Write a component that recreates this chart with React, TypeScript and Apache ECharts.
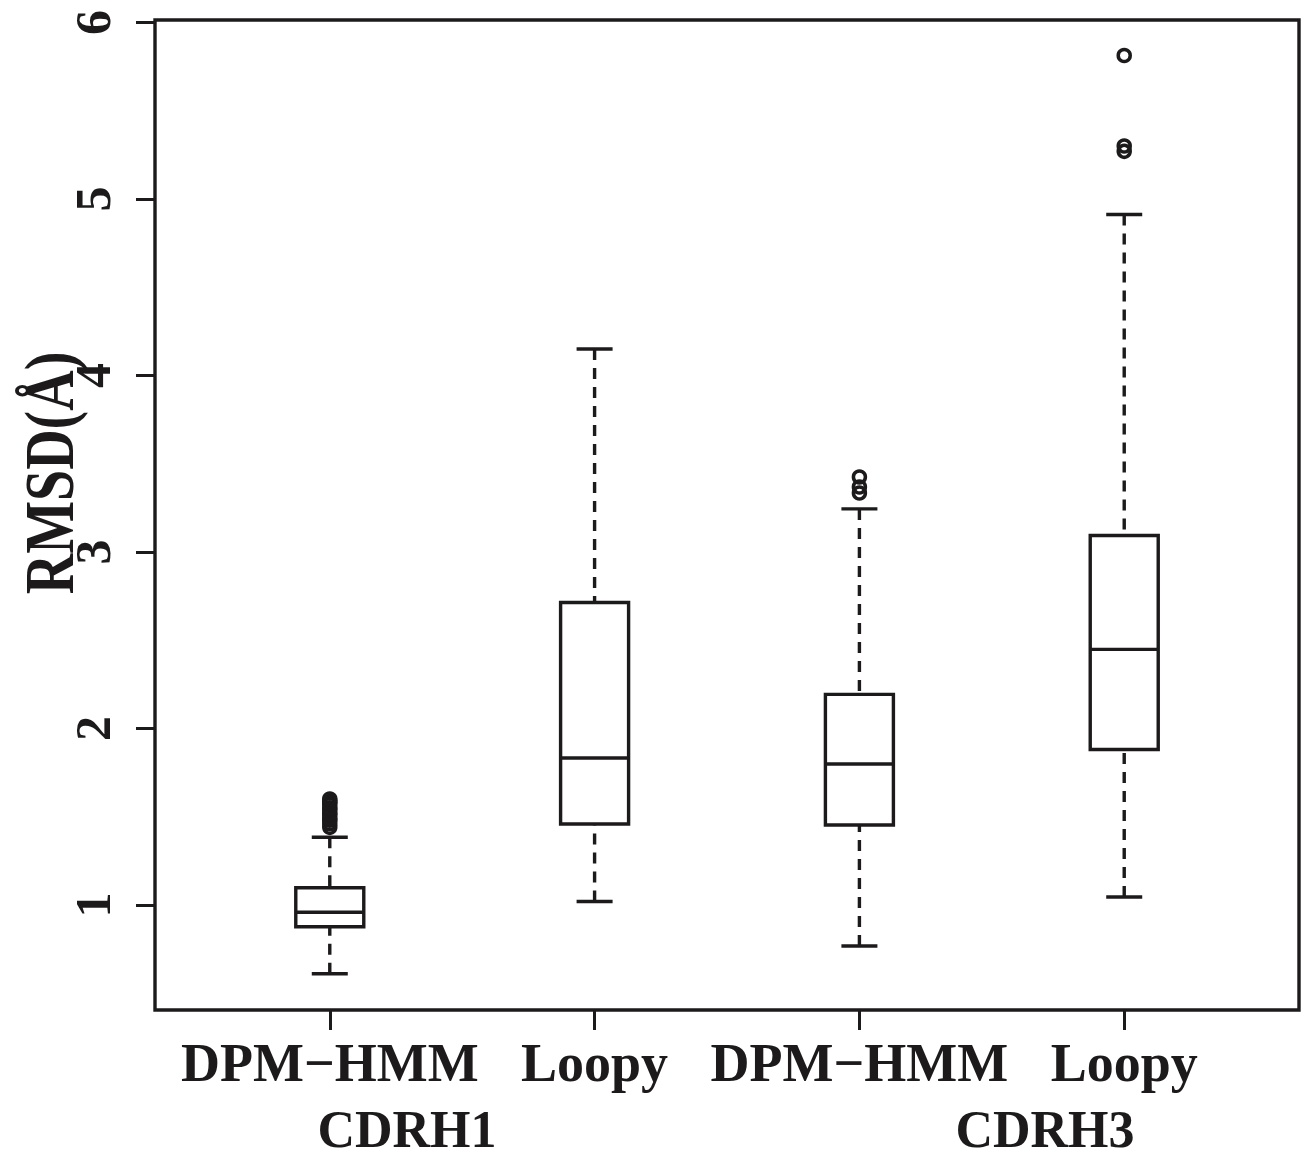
import React, { useEffect, useRef } from "react";
import * as echarts from "echarts";

// Loop-modelling accuracy: RMSD per method for two CDR loops
const categories = ["DPM\u2212HMM", "Loopy", "DPM\u2212HMM", "Loopy"];
const groupLabels = ["CDRH1", "CDRH3"];
const lowerWhisker = [0.61, 1.02, 0.768, 1.045];
const quartile1 = [0.877, 1.459, 1.453, 1.881];
const median = [0.959, 1.833, 1.799, 2.448];
const quartile3 = [1.098, 2.714, 2.193, 3.093];
const upperWhisker = [1.384, 4.15, 3.244, 4.912];
const outliers = [
  [1.44, 1.46, 1.48, 1.49, 1.51, 1.52, 1.54, 1.55, 1.57, 1.58, 1.59, 1.6],
  [],
  [3.334, 3.368, 3.425],
  [5.27, 5.3, 5.813],
];
const yTicks = [1, 2, 3, 4, 5, 6];
const xTicks = [1, 2, 3, 4];

const INK = "#1c1a1b";
const FONT = "Liberation Serif, Times New Roman, Times, serif";

export default function App() {
  const ref = useRef<HTMLDivElement>(null);

  useEffect(() => {
    if (!ref.current) return;
    const chart = echarts.init(ref.current, undefined, { renderer: "svg" });

    const boxData = categories.map((_, i) => [
      i + 1,
      lowerWhisker[i],
      quartile1[i],
      median[i],
      quartile3[i],
      upperWhisker[i],
    ]);
    const outlierData: number[][] = [];
    outliers.forEach((vals, i) => vals.forEach((v) => outlierData.push([i + 1, v])));

    const boxHalf = 34;
    const capHalf = 18;
    const lw = 3.4;

    const groupText = (label: string, x: number) => ({
      type: "text",
      x,
      y: 1129,
      style: {
        text: label,
        fill: INK,
        fontFamily: FONT,
        fontWeight: "bold",
        fontSize: 52,
        align: "center",
        verticalAlign: "middle",
      },
    });

    chart.setOption({
      animation: false,
      backgroundColor: "#ffffff",
      grid: {
        left: 155,
        top: 20,
        width: 1144,
        height: 990,
        show: true,
        borderColor: INK,
        borderWidth: 3.4,
        backgroundColor: "transparent",
      },
      xAxis: {
        type: "value",
        min: 0.34,
        max: 4.66,
        axisLine: { show: false },
        splitLine: { show: false },
        axisTick: {
          show: true,
          customValues: xTicks,
          length: 20,
          lineStyle: { color: INK, width: 3 },
        },
        axisLabel: {
          show: true,
          customValues: xTicks,
          margin: 26,
          formatter: (v: number) => categories[Math.round(v) - 1] ?? "",
          color: INK,
          fontFamily: FONT,
          fontWeight: "bold",
          fontSize: 54,
        },
      },
      yAxis: {
        type: "value",
        min: 0.405,
        max: 6.014,
        axisLine: { show: false },
        splitLine: { show: false },
        axisTick: {
          show: true,
          customValues: yTicks,
          length: 19,
          lineStyle: { color: INK, width: 3 },
        },
        axisLabel: {
          show: true,
          customValues: yTicks,
          rotate: 90,
          margin: 37,
          color: INK,
          fontFamily: FONT,
          fontWeight: "bold",
          fontSize: 50,
        },
      },
      series: [
        {
          type: "custom",
          data: boxData,
          encode: { x: 0, y: [1, 2, 3, 4, 5] },
          renderItem: (params: any, api: any) => {
            const x = api.value(0);
            const lo = api.coord([x, api.value(1)]);
            const q1 = api.coord([x, api.value(2)]);
            const md = api.coord([x, api.value(3)]);
            const q3 = api.coord([x, api.value(4)]);
            const hi = api.coord([x, api.value(5)]);
            const cx = lo[0];
            const solid = { stroke: INK, lineWidth: lw, fill: "none" };
            const dashed = { stroke: INK, lineWidth: lw, lineDash: [11, 8] };
            return {
              type: "group",
              children: [
                { type: "line", shape: { x1: cx, y1: lo[1], x2: cx, y2: q1[1] }, style: dashed },
                { type: "line", shape: { x1: cx, y1: hi[1], x2: cx, y2: q3[1] }, style: dashed },
                { type: "line", shape: { x1: cx - capHalf, y1: lo[1], x2: cx + capHalf, y2: lo[1] }, style: solid },
                { type: "line", shape: { x1: cx - capHalf, y1: hi[1], x2: cx + capHalf, y2: hi[1] }, style: solid },
                {
                  type: "rect",
                  shape: { x: cx - boxHalf, y: q3[1], width: boxHalf * 2, height: q1[1] - q3[1] },
                  style: { stroke: INK, lineWidth: lw, fill: "#ffffff" },
                },
                { type: "line", shape: { x1: cx - boxHalf, y1: md[1], x2: cx + boxHalf, y2: md[1] }, style: solid },
              ],
            };
          },
        },
        {
          type: "scatter",
          data: outlierData,
          symbol: "circle",
          symbolSize: 12,
          itemStyle: { color: "rgba(0,0,0,0)", borderColor: INK, borderWidth: 3.5, opacity: 1 },
        },
      ],
      graphic: [
        {
          type: "text",
          x: 50,
          y: 473,
          rotation: Math.PI / 2,
          scaleX: 0.8,
          style: {
            text: "RMSD(\u00c5)",
            fill: INK,
            fontFamily: FONT,
            fontWeight: "bold",
            fontSize: 70,
            align: "center",
            verticalAlign: "middle",
          },
        },
        groupText(groupLabels[0], 407),
        groupText(groupLabels[1], 1045),
      ],
    });

    return () => chart.dispose();
  }, []);

  return (
    <div
      ref={ref}
      style={{ position: "fixed", left: 0, top: 0, width: 1301, height: 1161 }}
    />
  );
}
